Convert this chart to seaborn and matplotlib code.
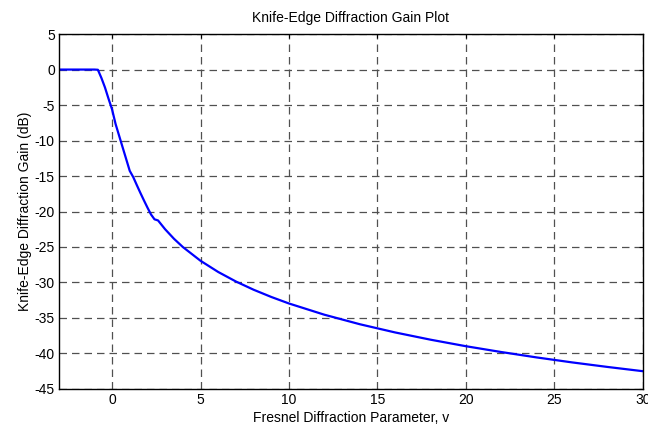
import matplotlib
matplotlib.use("Agg")
import matplotlib.pyplot as plt
import seaborn as sns
import pandas as pd

# Fresnel diffraction parameter v and knife-edge gain (dB)
v_values = [-3, -1, -0.8, -0.6, -0.4, -0.2, 0, 0.2, 0.4, 0.6, 0.8, 1.0, 1.2, 1.4,
            1.6, 1.8, 2.0, 2.2, 2.4, 2.6, 3, 3.5, 4, 5, 6, 7, 8, 9, 10, 12, 14,
            16, 18, 20, 22, 24, 26, 28, 30]
gain_db = [0, 0, -0.03, -1.19, -2.52, -4.10, -5.6, -7.67, -9.32, -10.97, -12.62,
           -14.27, -15.16, -16.28, -17.37, -18.42, -19.44, -20.41, -21.1, -21.26,
           -22.5, -23.84, -25.0, -26.94, -28.52, -29.86, -31.02, -32.04, -32.96,
           -34.54, -35.88, -37.04, -38.06, -38.98, -39.80, -40.56, -41.26, -41.90,
           -42.50]
x_ticks = [0, 5, 10, 15, 20, 25, 30]
y_ticks = [5, 0, -5, -10, -15, -20, -25, -30, -35, -40, -45]

sns.set_style("white")
plt.rcParams['font.family'] = ['Liberation Sans', 'DejaVu Sans']
plt.rcParams['axes.unicode_minus'] = False
plt.rcParams['text.color'] = 'black'
plt.rcParams['axes.labelcolor'] = 'black'

df = pd.DataFrame({"v": v_values, "gain": gain_db})

fig = plt.figure(figsize=(6.48, 4.26), dpi=100)
ax = fig.add_axes([0.091, 0.087, 0.901, 0.833])
sns.lineplot(data=df, x="v", y="gain", ax=ax, color="#0000ff", linewidth=1.6)

ax.set_xlim(-3, 30)
ax.set_ylim(-45, 5)
ax.set_xticks(x_ticks)
ax.set_yticks(y_ticks)
ax.tick_params(direction="in", length=3, width=0.8, labelsize=10, top=True, right=True,
               colors="black", pad=3)
ax.grid(True, linestyle=(0, (6, 4)), color="#505050", linewidth=0.9)
for s in ax.spines.values():
    s.set_color("black")
    s.set_linewidth(1.0)

ax.set_xlabel("Fresnel Diffraction Parameter, v", fontsize=10, labelpad=3, color="black")
ax.set_ylabel("Knife-Edge Diffraction Gain (dB)", fontsize=10, labelpad=2, color="black")
ax.set_title("Knife-Edge Diffraction Gain Plot", fontsize=10, pad=9, color="black")

fig.savefig("out.png", dpi=100)
